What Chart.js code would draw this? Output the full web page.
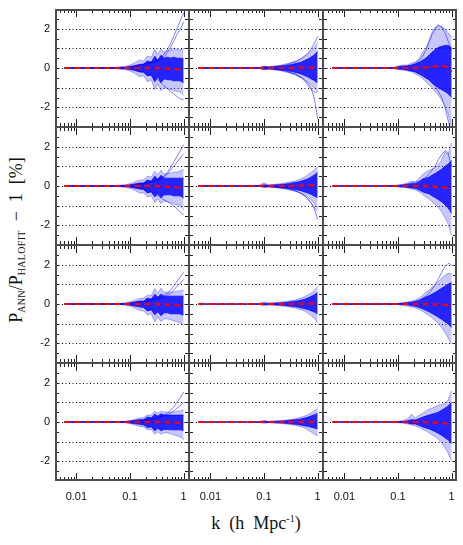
<!DOCTYPE html>
<html>
<head>
<meta charset="utf-8">
<script src="https://cdn.jsdelivr.net/npm/chart.js@4.4.1/dist/chart.umd.min.js"></script>
<style>
  body { margin: 0; background: #fff; }
  #fig { position: relative; width: 463px; height: 545px; overflow: hidden; }
  #fig canvas { position: absolute; }
  .axis-title { position: absolute; font-family: 'Liberation Serif', serif; font-size: 18px; color: #111; white-space: nowrap; }
  .axis-title sub { font-size: 10px; vertical-align: -3px; letter-spacing: 0.3px; }
  .axis-title sup { font-size: 10px; vertical-align: 7px; }
</style>
</head>
<body>
<div id="fig">
  <div class="axis-title" id="ytitle">P<sub>ANN</sub>/P<sub>HALOFIT</sub> &nbsp;&minus;&nbsp; 1 &nbsp;[%]</div>
  <div class="axis-title" id="xtitle">k &nbsp;(h &nbsp;Mpc<sup>-1</sup>)</div>
</div>
<script>
// wavenumbers shared by every curve (h/Mpc)
const kValues = [0.006, 0.05, 0.08, 0.1, 0.12, 0.15, 0.18, 0.21, 0.25, 0.29, 0.33, 0.38, 0.43, 0.5, 0.57, 0.65, 0.75, 0.85, 0.93, 1.0];

const xTickValues = [0.01, 0.1, 1];
const xMinorTicks = [0.004, 0.005, 0.006, 0.007, 0.008, 0.009, 0.02, 0.03, 0.04, 0.05, 0.06, 0.07, 0.08, 0.09, 0.2, 0.3, 0.4, 0.5, 0.6, 0.7, 0.8, 0.9];
const yTickLabels = [-2, 0, 2];
const yGridValues = [-2, -1, 0, 1, 2];
const yTickMarks = [-2.5, -2, -1.5, -1, -0.5, 0, 0.5, 1, 1.5, 2, 2.5];

// panels in row order: r1c1, r1c2, r1c3, r2c1, ...
const meanCurves = [
  [0,0,0,0,0,0,0,0,0,0,-0.01,-0.02,-0.02,-0.03,-0.04,-0.05,-0.07,-0.09,-0.12,-0.15],
  [0,0,0,0,0,0,0,0,0,0,0,0.01,0.01,0.02,0.02,0.02,0.02,0.02,0.02,0.02],
  [0,0,0,0,0,0,0,0,0.01,0.02,0.03,0.05,0.06,0.08,0.1,0.1,0.08,0.02,-0.08,-0.2],
  [0,0,0,0,0,0,0,0,0,0,-0.01,-0.02,-0.02,-0.03,-0.04,-0.05,-0.07,-0.09,-0.12,-0.15],
  [0,0,0,0,0,0,0,0,0,0,0,0.01,0.01,0.02,0.02,0.02,0.03,0.03,0.03,0.03],
  [0,0,0,0,0,0,0,0,0,0,-0.01,-0.02,-0.03,-0.04,-0.05,-0.06,-0.07,-0.09,-0.12,-0.15],
  [0,0,0,0,0,0,0,0,0,0,-0.01,-0.01,-0.02,-0.03,-0.03,-0.04,-0.05,-0.07,-0.09,-0.12],
  [0,0,0,0,0,0,0,0,0,0,0,0.01,0.01,0.01,0.02,0.02,0.02,0.02,0.02,0.02],
  [0,0,0,0,0,0,0,0,0,0,0,-0.01,-0.01,-0.02,-0.02,-0.03,-0.04,-0.05,-0.07,-0.1],
  [0,0,0,0,0,0,0,0,0,0,0,-0.01,-0.01,-0.02,-0.02,-0.03,-0.04,-0.05,-0.06,-0.07],
  [0,0,0,0,0,0,0,0,0,0,0,0,0.01,0.01,0.01,0.01,0.01,0.01,0.01,0.01],
  [0,0,0,0,0,0,0,0,0,0,-0.01,-0.02,-0.02,-0.03,-0.04,-0.05,-0.07,-0.09,-0.12,-0.15]
];

// dense core of the curves
const coreUpper = [
  [0,0.02,0.04,0.08,0.12,0.18,0.2,0.35,0.3,0.6,0.4,0.65,0.5,0.55,0.5,0.55,0.5,0.5,0.5,0.45],
  [0,0,0.01,0.06,0.04,0.06,0.08,0.1,0.12,0.15,0.18,0.22,0.25,0.3,0.38,0.45,0.55,0.65,0.75,0.85],
  [0,0,0.01,0.05,0.08,0.1,0.15,0.2,0.3,0.4,0.5,0.65,0.8,0.95,1.05,1.1,1.15,1.15,1.1,1.0],
  [0,0.01,0.03,0.06,0.1,0.15,0.15,0.3,0.25,0.5,0.35,0.55,0.4,0.4,0.4,0.4,0.4,0.4,0.4,0.4],
  [0,0,0.01,0.06,0.03,0.05,0.06,0.08,0.1,0.12,0.15,0.18,0.2,0.25,0.3,0.36,0.45,0.55,0.62,0.7],
  [0,0,0.01,0.03,0.04,0.08,0.12,0.12,0.22,0.35,0.4,0.45,0.55,0.65,0.75,0.85,1.0,1.1,1.2,1.3],
  [0,0.01,0.03,0.06,0.1,0.15,0.15,0.3,0.25,0.5,0.35,0.5,0.4,0.4,0.4,0.4,0.4,0.4,0.4,0.4],
  [0,0,0.01,0.04,0.03,0.04,0.05,0.06,0.08,0.1,0.12,0.14,0.16,0.2,0.24,0.3,0.38,0.45,0.52,0.58],
  [0,0,0.01,0.02,0.03,0.06,0.08,0.12,0.18,0.28,0.35,0.42,0.5,0.6,0.7,0.8,0.9,1.0,1.05,1.1],
  [0,0.01,0.02,0.05,0.08,0.12,0.12,0.25,0.22,0.4,0.3,0.42,0.35,0.35,0.35,0.35,0.35,0.35,0.35,0.35],
  [0,0,0.01,0.04,0.02,0.03,0.04,0.05,0.06,0.08,0.1,0.11,0.13,0.16,0.2,0.24,0.3,0.36,0.4,0.45],
  [0,0,0.01,0.02,0.03,0.06,0.12,0.1,0.18,0.25,0.3,0.35,0.4,0.45,0.5,0.6,0.7,0.8,0.9,1.0]
];
const coreLower = [
  [0,-0.02,-0.04,-0.08,-0.12,-0.2,-0.22,-0.4,-0.35,-0.7,-0.45,-0.75,-0.55,-0.6,-0.6,-0.65,-0.65,-0.65,-0.7,-0.75],
  [0,0,-0.01,-0.06,-0.04,-0.06,-0.08,-0.1,-0.12,-0.15,-0.18,-0.22,-0.25,-0.32,-0.38,-0.45,-0.55,-0.62,-0.7,-0.75],
  [0,0,-0.01,-0.05,-0.06,-0.1,-0.15,-0.2,-0.3,-0.4,-0.5,-0.6,-0.75,-0.9,-1.0,-1.1,-1.2,-1.3,-1.4,-1.5],
  [0,-0.01,-0.03,-0.06,-0.1,-0.15,-0.18,-0.35,-0.3,-0.55,-0.4,-0.6,-0.45,-0.45,-0.45,-0.5,-0.5,-0.5,-0.55,-0.6],
  [0,0,-0.01,-0.05,-0.03,-0.05,-0.06,-0.08,-0.1,-0.12,-0.15,-0.18,-0.2,-0.25,-0.3,-0.35,-0.42,-0.5,-0.55,-0.6],
  [0,0,-0.01,-0.03,-0.04,-0.07,-0.1,-0.12,-0.2,-0.3,-0.35,-0.4,-0.5,-0.6,-0.7,-0.8,-0.95,-1.1,-1.25,-1.4],
  [0,-0.01,-0.03,-0.06,-0.1,-0.15,-0.18,-0.35,-0.3,-0.55,-0.4,-0.6,-0.45,-0.45,-0.5,-0.5,-0.5,-0.5,-0.55,-0.55],
  [0,0,-0.01,-0.04,-0.03,-0.04,-0.05,-0.06,-0.08,-0.1,-0.12,-0.14,-0.16,-0.2,-0.24,-0.28,-0.34,-0.4,-0.45,-0.5],
  [0,0,-0.01,-0.02,-0.03,-0.05,-0.08,-0.12,-0.18,-0.25,-0.32,-0.4,-0.48,-0.58,-0.68,-0.78,-0.9,-1.0,-1.1,-1.2],
  [0,-0.01,-0.02,-0.05,-0.08,-0.12,-0.15,-0.28,-0.25,-0.45,-0.32,-0.45,-0.38,-0.38,-0.4,-0.4,-0.4,-0.4,-0.42,-0.42],
  [0,0,-0.01,-0.03,-0.02,-0.03,-0.04,-0.05,-0.06,-0.08,-0.1,-0.11,-0.13,-0.16,-0.19,-0.22,-0.26,-0.3,-0.33,-0.35],
  [0,0,-0.01,-0.02,-0.03,-0.05,-0.1,-0.1,-0.18,-0.25,-0.3,-0.35,-0.42,-0.5,-0.58,-0.68,-0.8,-0.9,-1.0,-1.1]
];

// outer envelope of the fainter curves
const bandUpper = [
  [0,0.03,0.08,0.15,0.25,0.4,0.35,0.6,0.55,0.95,0.7,0.95,0.8,0.9,0.9,1.0,0.95,0.9,0.95,1.0],
  [0,0,0.02,0.1,0.06,0.1,0.12,0.15,0.2,0.25,0.3,0.35,0.4,0.5,0.6,0.7,0.85,1.0,1.15,1.3],
  [0,0,0.02,0.1,0.15,0.15,0.25,0.3,0.5,0.8,1.0,1.4,1.8,2.1,2.2,2.1,2.0,1.8,1.7,1.6],
  [0,0.02,0.06,0.12,0.2,0.3,0.3,0.5,0.45,0.75,0.55,0.8,0.6,0.65,0.65,0.7,0.7,0.75,0.8,0.85],
  [0,0,0.03,0.15,0.06,0.08,0.1,0.12,0.15,0.2,0.22,0.25,0.3,0.38,0.45,0.55,0.68,0.8,0.9,0.95],
  [0,0,0.01,0.05,0.08,0.15,0.25,0.2,0.4,0.6,0.7,0.8,0.85,0.95,1.1,1.3,1.75,1.6,1.9,2.2],
  [0,0.02,0.05,0.1,0.18,0.28,0.3,0.45,0.42,0.78,0.55,0.8,0.6,0.6,0.6,0.62,0.65,0.65,0.7,0.7],
  [0,0,0.02,0.1,0.05,0.06,0.08,0.1,0.12,0.15,0.18,0.2,0.25,0.3,0.38,0.45,0.55,0.68,0.78,0.88],
  [0,0,0.01,0.04,0.06,0.1,0.15,0.2,0.3,0.45,0.6,0.7,0.85,1.0,1.15,1.3,1.45,1.55,1.55,1.55],
  [0,0.01,0.04,0.08,0.12,0.2,0.22,0.35,0.35,0.55,0.45,0.55,0.5,0.5,0.5,0.5,0.55,0.55,0.6,0.6],
  [0,0,0.02,0.08,0.04,0.05,0.06,0.08,0.1,0.12,0.14,0.16,0.2,0.25,0.3,0.36,0.45,0.55,0.62,0.7],
  [0,0,0.01,0.04,0.06,0.15,0.4,0.2,0.35,0.45,0.55,0.65,0.7,0.8,0.85,0.9,0.95,1.1,1.35,1.6]
];
const bandLower = [
  [0,-0.03,-0.08,-0.15,-0.25,-0.45,-0.4,-0.7,-0.6,-1.1,-0.8,-1.15,-1.0,-1.05,-1.1,-1.15,-1.2,-1.2,-1.3,-1.4],
  [0,0,-0.02,-0.1,-0.06,-0.1,-0.12,-0.15,-0.2,-0.25,-0.3,-0.35,-0.42,-0.5,-0.6,-0.7,-0.85,-1.0,-1.1,-1.2],
  [0,0,-0.02,-0.08,-0.1,-0.15,-0.2,-0.3,-0.4,-0.55,-0.7,-0.85,-1.0,-1.2,-1.4,-1.6,-1.9,-2.3,-2.7,-3.0],
  [0,-0.02,-0.06,-0.12,-0.2,-0.35,-0.35,-0.55,-0.5,-0.85,-0.65,-0.9,-0.75,-0.8,-0.85,-0.9,-0.95,-1.0,-1.1,-1.2],
  [0,0,-0.02,-0.08,-0.06,-0.08,-0.1,-0.12,-0.15,-0.2,-0.22,-0.26,-0.3,-0.38,-0.46,-0.55,-0.7,-0.85,-1.0,-1.15],
  [0,0,-0.01,-0.05,-0.06,-0.1,-0.15,-0.2,-0.3,-0.45,-0.55,-0.65,-0.8,-0.95,-1.1,-1.3,-1.6,-1.9,-2.2,-2.5],
  [0,-0.02,-0.05,-0.1,-0.2,-0.32,-0.35,-0.55,-0.5,-0.9,-0.65,-0.9,-0.75,-0.75,-0.8,-0.85,-0.9,-0.95,-1.0,-1.1],
  [0,0,-0.02,-0.08,-0.05,-0.06,-0.08,-0.1,-0.12,-0.15,-0.18,-0.2,-0.24,-0.3,-0.36,-0.45,-0.58,-0.7,-0.82,-0.95],
  [0,0,-0.01,-0.04,-0.06,-0.1,-0.15,-0.2,-0.28,-0.38,-0.48,-0.58,-0.7,-0.85,-1.0,-1.2,-1.45,-1.7,-1.9,-2.05],
  [0,-0.01,-0.04,-0.08,-0.14,-0.22,-0.25,-0.4,-0.38,-0.62,-0.5,-0.62,-0.55,-0.55,-0.6,-0.65,-0.7,-0.75,-0.8,-0.9],
  [0,0,-0.02,-0.06,-0.04,-0.05,-0.06,-0.08,-0.1,-0.12,-0.14,-0.16,-0.2,-0.24,-0.3,-0.38,-0.5,-0.6,-0.66,-0.7],
  [0,0,-0.01,-0.04,-0.05,-0.1,-0.15,-0.2,-0.28,-0.38,-0.45,-0.55,-0.65,-0.75,-0.9,-1.05,-1.3,-1.55,-1.8,-2.0]
];

// individual curves that stray away from the bundle
const outlierCurves = [
  [
    [0,0,0,0.05,0.1,0.15,0.2,0.25,0.3,0.35,0.4,0.5,0.7,0.95,1.25,1.6,2.0,2.35,2.6,2.8],
    [0,0,0,0,0.05,0.1,0.15,0.2,0.25,0.3,0.35,0.4,0.55,0.8,1.05,1.35,1.7,1.95,2.15,2.35],
    [0,0,0,0,-0.05,-0.1,-0.2,-0.3,-0.4,-0.5,-0.6,-0.75,-0.9,-1.05,-1.2,-1.3,-1.45,-1.55,-1.6,-1.6]
  ],
  [
    [0,0,0,0.05,0.05,0.05,0.1,0.1,0.15,0.2,0.25,0.3,0.38,0.48,0.6,0.75,0.95,1.2,1.4,1.6],
    [0,0,0,0,-0.03,-0.05,-0.08,-0.1,-0.15,-0.2,-0.25,-0.3,-0.38,-0.48,-0.6,-0.75,-1.0,-1.45,-2.0,-2.6],
    [0,0,0,0,0,-0.05,-0.08,-0.1,-0.15,-0.2,-0.25,-0.3,-0.4,-0.5,-0.65,-0.85,-1.05,-1.2,-1.25,-1.2]
  ],
  [
    [0,0,0,0.05,0.1,0.1,0.15,0.25,0.4,0.6,0.9,1.3,1.7,2.0,2.15,2.1,1.8,1.4,1.1,0.9],
    [0,0,0,0,-0.05,-0.1,-0.15,-0.2,-0.3,-0.4,-0.5,-0.6,-0.75,-0.95,-1.2,-1.5,-2.0,-2.6,-3.0,-3.2]
  ],
  [
    [0,0,0,0,0.05,0.1,0.15,0.2,0.2,0.25,0.3,0.4,0.5,0.7,0.95,1.2,1.5,1.75,1.95,2.1],
    [0,0,0,0,0,0.05,0.1,0.15,0.2,0.25,0.3,0.35,0.45,0.6,0.8,1.0,1.2,1.4,1.55,1.65],
    [0,0,0,0,-0.05,-0.1,-0.15,-0.2,-0.3,-0.4,-0.5,-0.6,-0.7,-0.8,-0.9,-1.0,-1.15,-1.3,-1.4,-1.45]
  ],
  [
    [0,0,0,0,-0.02,-0.05,-0.08,-0.1,-0.12,-0.15,-0.2,-0.25,-0.3,-0.4,-0.5,-0.65,-0.85,-1.1,-1.4,-1.7],
    [0,0,0,0,-0.02,-0.04,-0.06,-0.08,-0.1,-0.15,-0.2,-0.25,-0.3,-0.38,-0.5,-0.65,-0.85,-1.05,-1.2,-1.25]
  ],
  [
    [0,0,0,0.02,0.05,0.1,0.15,0.2,0.25,0.35,0.45,0.6,0.8,1.05,1.35,1.6,1.8,1.7,1.3,1.0]
  ],
  [
    [0,0,0,0,0.05,0.1,0.12,0.15,0.2,0.25,0.3,0.35,0.45,0.55,0.7,0.9,1.15,1.35,1.5,1.62],
    [0,0,0,0,0,0.05,0.1,0.15,0.2,0.2,0.25,0.3,0.35,0.45,0.55,0.7,0.9,1.05,1.15,1.25]
  ],
  [],
  [
    [0,0,0,0.02,0.04,0.06,0.1,0.15,0.2,0.3,0.4,0.55,0.75,1.0,1.3,1.6,1.9,2.05,2.05,1.95]
  ],
  [
    [0,0,0,0,0.03,0.06,0.1,0.12,0.15,0.2,0.25,0.3,0.35,0.45,0.6,0.75,1.0,1.2,1.38,1.52],
    [0,0,0,0,0,0.03,0.06,0.1,0.12,0.15,0.2,0.25,0.3,0.38,0.45,0.55,0.7,0.82,0.92,1.0]
  ],
  [],
  []
];

const columnLeft = [55, 189, 323];
const rowTop = [9, 127, 245, 363];
const panelW = 134, panelH = 118;
const yAxisRoom = 30, xAxisRoom = 26;

// dotted reference lines, inward tick marks and the panel frame,
// all placed with the chart's own scales
const frameTicks = {
  id: 'frameTicks',
  beforeDatasetsDraw(chart) {
    const { ctx, chartArea: a, scales: { y } } = chart;
    ctx.save();
    ctx.strokeStyle = '#000';
    ctx.lineWidth = 1;
    ctx.setLineDash([1, 2.5]);
    ctx.beginPath();
    yGridValues.forEach(v => {
      const py = Math.round(y.getPixelForValue(v)) + 0.5;
      ctx.moveTo(a.left, py); ctx.lineTo(a.right, py);
    });
    ctx.stroke();
    ctx.restore();
  },
  afterDraw(chart, args, opts) {
    const { ctx, chartArea: a, scales: { x, y } } = chart;
    ctx.save();
    ctx.strokeStyle = '#222';
    ctx.lineWidth = 1;
    ctx.beginPath();
    const xMark = (k, len) => {
      const px = Math.round(x.getPixelForValue(k)) + 0.5;
      ctx.moveTo(px, a.top); ctx.lineTo(px, a.top + len);
      ctx.moveTo(px, a.bottom); ctx.lineTo(px, a.bottom - len);
    };
    xMinorTicks.forEach(k => xMark(k, 4));
    xTickValues.forEach(k => xMark(k, 8));
    yTickMarks.forEach(v => {
      const py = Math.round(y.getPixelForValue(v)) + 0.5;
      ctx.moveTo(a.left, py); ctx.lineTo(a.left + 4, py);
      ctx.moveTo(a.right, py); ctx.lineTo(a.right - 4, py);
    });
    ctx.stroke();

    ctx.strokeStyle = '#4d4d4d';
    const edge = (outer, x1, y1, x2, y2) => {
      ctx.lineWidth = outer ? 2 : 1;
      ctx.beginPath(); ctx.moveTo(x1, y1); ctx.lineTo(x2, y2); ctx.stroke();
    };
    const wl = opts.left ? 1 : 0.5, wr = opts.right ? 1 : 0.5;
    const wt = opts.top ? 1 : 0.5, wb = opts.bottom ? 1 : 0.5;
    edge(opts.left, a.left + wl, a.top, a.left + wl, a.bottom);
    edge(opts.right, a.right - wr, a.top, a.right - wr, a.bottom);
    edge(opts.top, a.left, a.top + wt, a.right, a.top + wt);
    edge(opts.bottom, a.left, a.bottom - wb, a.right, a.bottom - wb);
    ctx.restore();
  }
};

function panelDatasets(i) {
  const sets = [];
  sets.push({ data: meanCurves[i], borderColor: '#ff0000', borderWidth: 2.2, borderDash: [6, 4], fill: false });
  sets.push({ data: coreUpper[i], borderColor: 'rgba(0,0,255,0.9)', borderWidth: 0.8, backgroundColor: 'rgba(0,0,255,0.82)', fill: 2 });
  sets.push({ data: coreLower[i], borderColor: 'rgba(0,0,255,0.9)', borderWidth: 0.8, fill: false });
  outlierCurves[i].forEach(c => {
    sets.push({ data: c, borderColor: 'rgba(40,40,255,0.75)', borderWidth: 0.8, fill: false });
  });
  const lowerIndex = sets.length + 1;
  sets.push({ data: bandUpper[i], borderColor: 'rgba(40,40,255,0.55)', borderWidth: 0.7, backgroundColor: 'rgba(50,50,255,0.27)', fill: lowerIndex });
  sets.push({ data: bandLower[i], borderColor: 'rgba(40,40,255,0.55)', borderWidth: 0.7, fill: false });
  return sets;
}

function noPadding(s) {
  s.paddingLeft = 0; s.paddingRight = 0; s.paddingTop = 0; s.paddingBottom = 0;
}

const fig = document.getElementById('fig');
const tickFont = { family: "'Liberation Sans', Arial, sans-serif", size: 11 };

for (let r = 0; r < 4; r++) {
  for (let c = 0; c < 3; c++) {
    const i = r * 3 + c;
    const leftCol = c === 0, bottomRow = r === 3;
    const canvas = document.createElement('canvas');
    const w = panelW + (leftCol ? yAxisRoom : 0);
    const h = panelH + (bottomRow ? xAxisRoom : 0);
    canvas.width = w; canvas.height = h;
    canvas.style.left = (columnLeft[c] - (leftCol ? yAxisRoom : 0)) + 'px';
    canvas.style.top = rowTop[r] + 'px';
    canvas.style.width = w + 'px'; canvas.style.height = h + 'px';
    fig.appendChild(canvas);

    new Chart(canvas, {
      type: 'line',
      data: { labels: kValues, datasets: panelDatasets(i) },
      options: {
        responsive: false,
        animation: false,
        devicePixelRatio: 1,
        layout: { padding: 0, autoPadding: false },
        elements: { point: { radius: 0 }, line: { tension: 0 } },
        plugins: {
          legend: { display: false },
          tooltip: { enabled: false },
          frameTicks: { left: c === 0, right: c === 2, top: r === 0, bottom: r === 3 }
        },
        scales: {
          x: {
            type: 'logarithmic',
            min: 0.004,
            max: 1.26,
            grid: { display: false, drawTicks: false },
            border: { display: false },
            afterBuildTicks: s => { s.ticks = xTickValues.map(v => ({ value: v })); },
            afterFit: s => { s.height = bottomRow ? xAxisRoom : 0; noPadding(s); },
            ticks: {
              display: bottomRow,
              autoSkip: false,
              maxRotation: 0,
              padding: 9,
              color: '#111',
              font: tickFont,
              callback: v => String(v)
            }
          },
          y: {
            type: 'linear',
            min: -3,
            max: 3,
            grid: { display: false, drawTicks: false },
            border: { display: false },
            afterBuildTicks: s => { s.ticks = yTickLabels.map(v => ({ value: v })); },
            afterFit: s => { s.width = leftCol ? yAxisRoom : 0; noPadding(s); },
            ticks: {
              display: leftCol,
              autoSkip: false,
              padding: 5,
              color: '#111',
              font: tickFont,
              callback: v => String(v)
            }
          }
        }
      },
      plugins: [frameTicks]
    });
  }
}

// axis titles
const yt = document.getElementById('ytitle');
yt.style.left = '16px';
yt.style.top = '240px';
yt.style.transform = 'translate(-50%, -50%) rotate(-90deg)';
const xt = document.getElementById('xtitle');
xt.style.left = '256px';
xt.style.top = '523px';
xt.style.transform = 'translate(-50%, -50%)';
</script>
</body>
</html>
